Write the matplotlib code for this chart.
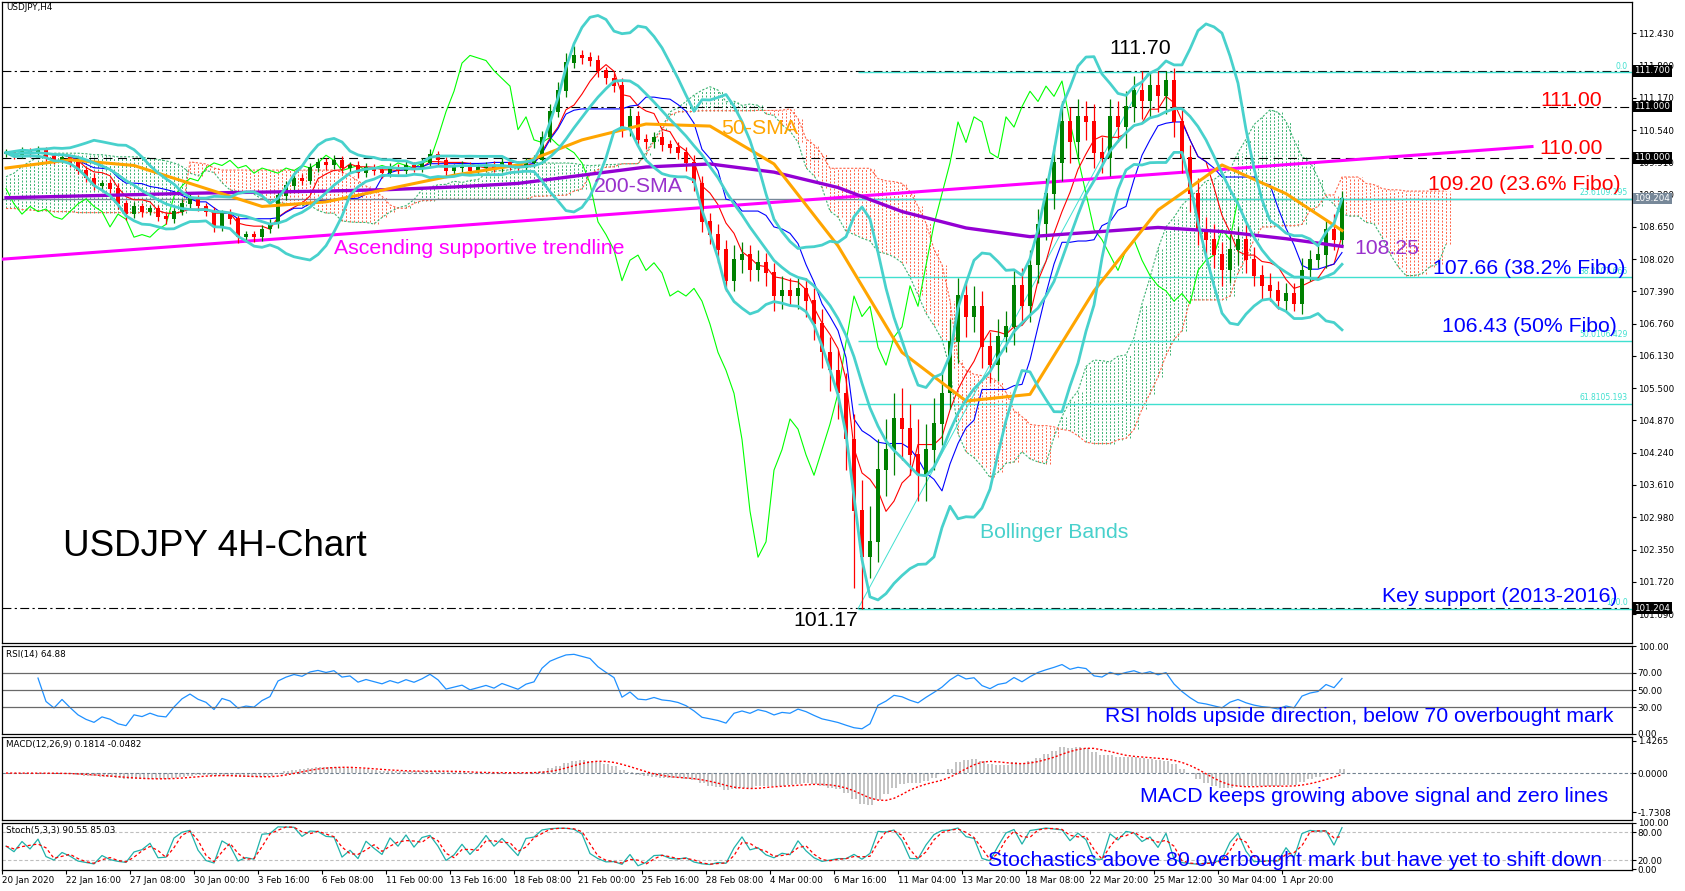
import numpy as np
import pandas as pd
import matplotlib
matplotlib.use("Agg")
import matplotlib.pyplot as plt

W, H = 1685, 891

# --- price data: 8-hour candles (open = previous close) ---
first_open = 110.08
close = [
    110.10, 110.05, 110.12, 110.08, 110.15, 110.02, 109.95, 110.00, 109.90, 109.75,
    109.60, 109.45, 109.50, 109.40, 109.10, 108.90, 109.05, 108.95, 109.00, 108.85,
    108.80, 108.95, 109.10, 109.20, 109.05, 108.95, 108.65, 108.90, 108.80, 108.45,
    108.50, 108.45, 108.60, 108.70, 109.25, 109.45, 109.60, 109.55, 109.80, 109.90,
    109.85, 109.95, 109.80, 109.85, 109.70, 109.80, 109.75, 109.70, 109.80, 109.75,
    109.85, 109.80, 109.90, 110.05, 109.95, 109.75, 109.80, 109.85, 109.75, 109.80,
    109.85, 109.80, 109.90, 109.85, 109.80, 109.90, 109.95, 110.40, 110.90, 111.30,
    111.85, 112.00, 111.95, 111.90, 111.70, 111.55, 111.40, 110.55, 110.80, 110.35,
    110.30, 110.40, 110.25, 110.20, 110.10, 109.90, 109.50, 108.75, 108.50, 108.20,
    107.60, 108.00, 108.10, 107.80, 107.95, 107.75, 107.30, 107.40, 107.30, 107.45,
    107.20, 106.75, 106.20, 105.85, 105.40, 104.50, 103.10, 102.20, 102.50, 103.90,
    104.30, 104.90, 104.70, 104.20, 103.80, 104.30, 104.80, 105.40, 106.40, 107.30,
    106.90, 107.10, 106.30, 105.95, 106.50, 106.70, 107.50, 107.10, 107.90, 108.70,
    109.30, 109.90, 110.70, 110.30, 110.80, 110.70, 110.10, 110.00, 110.80, 110.60,
    111.00, 111.30, 111.10, 111.40, 111.20, 111.50, 110.70, 110.00, 109.30, 108.60,
    108.40, 108.10, 107.80, 108.20, 108.40, 108.00, 107.70, 107.50, 107.40, 107.20,
    107.35, 107.15, 107.80, 108.00, 108.10, 108.60, 108.40, 109.20,
]
wick_up = [
    0.08, 0.06, 0.10, 0.07, 0.08, 0.06, 0.08, 0.07, 0.06, 0.08,
    0.08, 0.10, 0.07, 0.08, 0.10, 0.08, 0.09, 0.07, 0.08, 0.07,
    0.08, 0.07, 0.10, 0.09, 0.08, 0.07, 0.09, 0.08, 0.10, 0.08,
    0.08, 0.07, 0.08, 0.10, 0.08, 0.09, 0.10, 0.08, 0.09, 0.10,
    0.09, 0.10, 0.08, 0.07, 0.08, 0.09, 0.07, 0.08, 0.09, 0.07,
    0.08, 0.07, 0.10, 0.12, 0.08, 0.07, 0.08, 0.09, 0.07, 0.08,
    0.07, 0.08, 0.09, 0.07, 0.08, 0.09, 0.10, 0.12, 0.15, 0.18,
    0.20, 0.19, 0.10, 0.12, 0.10, 0.08, 0.10, 0.15, 0.18, 0.12,
    0.12, 0.10, 0.12, 0.10, 0.10, 0.12, 0.15, 0.15, 0.18, 0.20,
    0.20, 0.30, 0.25, 0.20, 0.25, 0.20, 0.20, 0.30, 0.25, 0.20,
    0.20, 0.25, 0.30, 0.30, 0.40, 0.40, 0.50, 0.60, 0.70, 0.60,
    0.60, 0.50, 0.60, 0.50, 0.70, 0.50, 0.50, 0.40, 0.45, 0.35,
    0.30, 0.40, 0.30, 0.30, 0.35, 0.30, 0.30, 0.35, 0.30, 0.30,
    0.30, 0.35, 0.40, 0.30, 0.35, 0.30, 0.35, 0.30, 0.35, 0.30,
    0.30, 0.30, 0.40, 0.25, 0.30, 0.20, 0.25, 0.30, 0.25, 0.30,
    0.25, 0.30, 0.25, 0.30, 0.25, 0.30, 0.25, 0.20, 0.25, 0.20,
    0.20, 0.20, 0.25, 0.20, 0.25, 0.20, 0.30, 0.15,
]
wick_dn = [
    0.06, 0.08, 0.05, 0.07, 0.06, 0.08, 0.07, 0.06, 0.08, 0.07,
    0.08, 0.07, 0.09, 0.08, 0.10, 0.12, 0.08, 0.10, 0.07, 0.09,
    0.10, 0.08, 0.07, 0.08, 0.09, 0.08, 0.10, 0.08, 0.09, 0.12,
    0.10, 0.09, 0.08, 0.07, 0.08, 0.07, 0.08, 0.09, 0.07, 0.08,
    0.08, 0.07, 0.09, 0.08, 0.10, 0.07, 0.08, 0.09, 0.08, 0.07,
    0.07, 0.08, 0.07, 0.08, 0.09, 0.10, 0.08, 0.07, 0.09, 0.08,
    0.08, 0.07, 0.08, 0.09, 0.07, 0.08, 0.07, 0.08, 0.10, 0.10,
    0.12, 0.10, 0.12, 0.10, 0.12, 0.10, 0.12, 0.15, 0.12, 0.10,
    0.12, 0.10, 0.12, 0.10, 0.12, 0.15, 0.15, 0.20, 0.18, 0.25,
    0.20, 0.20, 0.25, 0.20, 0.20, 0.25, 0.30, 0.25, 0.20, 0.25,
    0.30, 0.30, 0.30, 0.40, 0.50, 0.60, 1.50, 1.01, 0.40, 0.40,
    0.50, 0.50, 0.60, 0.40, 0.50, 0.50, 0.40, 0.40, 0.30, 0.40,
    0.40, 0.30, 0.40, 0.35, 0.30, 0.30, 0.35, 0.30, 0.30, 0.35,
    0.30, 0.30, 0.35, 0.40, 0.30, 0.35, 0.30, 0.30, 0.35, 0.30,
    0.40, 0.30, 0.35, 0.30, 0.30, 0.35, 0.30, 0.30, 0.35, 0.30,
    0.30, 0.25, 0.30, 0.25, 0.30, 0.25, 0.20, 0.25, 0.20, 0.15,
    0.20, 0.15, 0.20, 0.20, 0.15, 0.25, 0.20, 0.15,
]

# moving averages read every 16 H4 bars
sma_bars = [0, 16, 32, 48, 64, 80, 96, 112, 128, 144, 160, 176, 192, 208, 224,
            240, 256, 272, 288, 304, 320, 334]
sma50 = [109.80, 109.96, 109.85, 109.45, 109.05, 109.14, 109.40, 109.66, 109.86,
         110.35, 110.66, 110.62, 109.88, 108.28, 106.20, 105.25, 105.38, 107.40,
         108.98, 109.86, 109.30, 108.58]
sma200 = [109.22, 109.25, 109.28, 109.31, 109.33, 109.35, 109.38, 109.43, 109.50,
          109.66, 109.82, 109.88, 109.72, 109.42, 108.95, 108.63, 108.46, 108.55,
          108.64, 108.56, 108.42, 108.27]

# ichimoku cloud at the left edge (needs history before 20 Jan)
span_a_lead = [109.63, 109.70, 109.83, 109.93, 110.01, 110.06, 110.09, 110.09, 110.09, 110.09,
               110.08, 110.06, 110.06, 110.04, 110.02, 110.02, 110.02, 110.01, 109.99, 109.97,
               109.94, 109.90, 109.83, 109.70, 109.65]
span_b_lead = [109.01, 109.01, 108.99, 108.98, 108.97, 108.97, 108.95, 108.95, 108.95, 108.93,
               108.93, 108.93, 108.93, 108.93, 108.93, 108.93, 108.93, 108.93, 108.93, 108.93,
               108.93, 108.93, 108.93, 109.92, 109.90, 109.88, 109.80, 109.76, 109.76, 109.76,
               109.76, 109.76, 109.76, 109.76, 109.76, 109.76, 109.76, 109.76, 109.76, 109.76,
               109.76, 109.76, 109.72, 109.65, 109.55, 109.45, 109.35, 109.25]

# chart objects
trend_start = (-0.5, 108.02)
trend_end = (382.0, 110.22)
dashdot_levels = [111.70, 111.00, 101.204]
dashed_levels = [110.00]
bid_price = 109.204
fib_high, fib_low = 111.667, 101.192
fib_high_bar, fib_low_bar = 286.0, 213.5
fib_pcts = [0.0, 23.6, 38.2, 50.0, 61.8, 100.0]

price_ticks = [112.43, 111.80, 111.17, 110.54, 109.91, 109.28, 108.65, 108.02, 107.39,
               106.76, 106.13, 105.50, 104.87, 104.24, 103.61, 102.98, 102.35, 101.72, 101.09]
date_labels = ["20 Jan 2020", "22 Jan 16:00", "27 Jan 08:00", "30 Jan 00:00", "3 Feb 16:00",
               "6 Feb 08:00", "11 Feb 00:00", "13 Feb 16:00", "18 Feb 08:00", "21 Feb 00:00",
               "25 Feb 16:00", "28 Feb 08:00", "4 Mar 00:00", "6 Mar 16:00", "11 Mar 04:00",
               "13 Mar 20:00", "18 Mar 08:00", "22 Mar 20:00", "25 Mar 12:00", "30 Mar 04:00",
               "1 Apr 20:00"]

# --- derived series ---
c = pd.Series(close)
o = c.shift(1)
o.iloc[0] = first_open
hi = np.maximum(o, c) + np.array(wick_up)
lo = np.minimum(o, c) - np.array(wick_dn)
n = len(c)
xc = 2 * np.arange(n) + 0.5          # candle centre in H4-bar units

tenkan = (hi.rolling(5, min_periods=1).max() + lo.rolling(5, min_periods=1).min()) / 2
kijun = (hi.rolling(13, min_periods=1).max() + lo.rolling(13, min_periods=1).min()) / 2
sa = (tenkan + kijun) / 2
sb = (hi.rolling(26, min_periods=1).max() + lo.rolling(26, min_periods=1).min()) / 2
span_a = np.concatenate([span_a_lead, sa.values[12:]])
span_b = np.concatenate([span_b_lead, sb.values[35:]])
ncl = len(span_a)

bb_mid = c.rolling(10, min_periods=1).mean()
bb_sd = c.rolling(10, min_periods=1).std(ddof=0)

delta = c.diff()
gain = delta.clip(lower=0).ewm(alpha=1 / 10, adjust=True).mean()
loss = (-delta.clip(upper=0)).ewm(alpha=1 / 10, adjust=True).mean()
rsi = 100 * gain / (gain + loss)

macd = c.ewm(span=6, adjust=False).mean() - c.ewm(span=13, adjust=False).mean()
signal = macd.rolling(5, min_periods=1).mean()

ll = lo.rolling(3, min_periods=1).min()
hh = hi.rolling(3, min_periods=1).max()
stoch_k = 100 * (c - ll) / (hh - ll)
stoch_d = stoch_k.rolling(2, min_periods=1).mean()

# --- figure ---
fig = plt.figure(figsize=(W / 100, H / 100), dpi=100)


def box(top, bottom):
    return [2 / W, 1 - bottom / H, 1630 / W, (bottom - top) / H]


ax = fig.add_axes(box(2, 643))
ax_rsi = fig.add_axes(box(646, 734))
ax_macd = fig.add_axes(box(737, 820))
ax_sto = fig.add_axes(box(823, 870))

small = dict(family="DejaVu Sans", size=6.3)
for a in (ax, ax_rsi, ax_macd, ax_sto):
    a.set_xlim(-0.5, 407)
    a.yaxis.tick_right()
    a.tick_params(axis="y", direction="out", length=3, width=0.8, labelsize=6.3, pad=1)
    a.tick_params(axis="x", bottom=False, labelbottom=False)
    for s in a.spines.values():
        s.set_color("black")
        s.set_linewidth(0.9)

# main chart
ax.set_ylim(100.524, 113.043)
ax.set_yticks(price_ticks)
ax.set_yticklabels([f"{v:.3f}" for v in price_ticks])

dd = (0, (8, 3, 2, 3))
for lv in dashdot_levels:
    ax.axhline(lv, color="black", lw=0.8, ls=dd, zorder=2)
for lv in dashed_levels:
    ax.axhline(lv, color="black", lw=0.8, ls=(0, (8, 5)), zorder=2)
ax.axhline(bid_price, color="#778899", lw=1.0, zorder=2)

# cloud as dotted vertical strokes, one per H4 bar
xb = np.repeat(np.arange(ncl) * 2, 2) + np.tile([0, 1], ncl)
ra = np.repeat(span_a, 2)
rb = np.repeat(span_b, 2)
ccol = np.where(ra >= rb, "#3CB371", "#FF6347")
ax.vlines(xb + 0.5, np.minimum(ra, rb), np.maximum(ra, rb), colors=ccol,
          linestyles=(0, (2, 1.6)), lw=0.7, zorder=1)
xcl = 2 * np.arange(ncl) + 0.5
ax.plot(xcl, span_a, color="#3CB371", lw=0.8, ls=(0, (2, 1.5)), zorder=1)
ax.plot(xcl, span_b, color="#FF6347", lw=0.8, ls=(0, (2, 1.5)), zorder=1)

# fibonacci
fib_prices = [fib_high - p / 100 * (fib_high - fib_low) for p in fib_pcts]
ax.hlines(fib_prices, fib_low_bar, 407, colors="#40E0D0", lw=1.0, zorder=2)
ax.plot([fib_low_bar, fib_high_bar], [fib_low, fib_high], color="#40E0D0", lw=0.7, zorder=2)
for p, fp in zip(fib_pcts, fib_prices):
    lab = f"{p:.1f}" if p in (0.0, 100.0) else f"{p:.1f}{fp:.3f}"
    ax.text(406, fp + 0.03, lab, ha="right", va="bottom", color="#40E0D0",
            family="DejaVu Sans", size=5.5, zorder=3)

# trendline
ax.plot([trend_start[0], trend_end[0]], [trend_start[1], trend_end[1]],
        color="#FF00FF", lw=2.2, zorder=4)

# ichimoku lines
ax.plot(xc[:n - 13], c.values[13:], color="#00FF00", lw=0.8, zorder=3)
ax.plot(xc, tenkan, color="#FF0000", lw=0.8, zorder=3)
ax.plot(xc, kijun, color="#0000FF", lw=0.8, zorder=3)

# candles
up = (c >= o).values
col = np.where(up, "#008000", "#FF0000")
ax.vlines(xc, lo, hi, colors=col, lw=0.9, zorder=5)
ax.bar(xc, np.abs(c - o) + 0.015, bottom=np.minimum(o, c), width=1.1, color=col,
       linewidth=0, zorder=5)

# moving averages and bands
bx = np.array(sma_bars) + 0.5
ax.plot(bx, sma200, color="#9400D3", lw=2.4, zorder=6)
ax.plot(bx, sma50, color="#FFA500", lw=2.2, zorder=6)
for band in (bb_mid + 2 * bb_sd, bb_mid, bb_mid - 2 * bb_sd):
    ax.plot(xc, band, color="#48D1CC", lw=2.0, zorder=6)

# price boxes on the right axis
ytr = ax.get_yaxis_transform()
for pv, txt, bg in [(111.70, "111.700", "black"), (111.00, "111.000", "black"),
                    (110.00, "110.000", "black"), (bid_price, "109.204", "#778899"),
                    (101.204, "101.204", "black")]:
    ax.text(1.0015, pv, txt, transform=ytr, ha="left", va="center", color="white",
            bbox=dict(boxstyle="square,pad=0.15", fc=bg, ec="none"), clip_on=False,
            zorder=10, **small)

# RSI (skip the first few warm-up values)
ax_rsi.set_ylim(-0.3, 100.3)
ax_rsi.plot(xc[4:], rsi[4:], color="#1E90FF", lw=0.9)
for lv in (70, 50, 30):
    ax_rsi.axhline(lv, color="#696969", lw=0.9)
ax_rsi.set_yticks([100, 70, 50, 30, 0])
ax_rsi.set_yticklabels(["100.00", "70.00", "50.00", "30.00", "0.00"])

# MACD
ax_macd.set_ylim(-2.086, 1.604)
xh = np.repeat(xc, 2) + np.tile([-0.5, 0.5], n)
ax_macd.vlines(xh, 0, np.repeat(macd.values, 2), colors="#BEBEBE", lw=1.3)
ax_macd.axhline(0, color="#708090", lw=0.8, ls=(0, (3, 2)))
ax_macd.plot(xc, signal, color="#FF0000", lw=1.0, ls=(0, (1.5, 1.5)))
ax_macd.set_yticks([1.4265, 0.0, -1.7308])
ax_macd.set_yticklabels(["1.4265", "0.0000", "-1.7308"])

# Stochastic
ax_sto.set_ylim(-1.4, 99.3)
for lv in (80, 20):
    ax_sto.axhline(lv, color="#BEBEBE", lw=0.8, ls=(0, (3, 2)))
ax_sto.plot(xc, stoch_k, color="#20B2AA", lw=0.9)
ax_sto.plot(xc, stoch_d, color="#FF0000", lw=0.9, ls=(0, (2.5, 2)))
ax_sto.set_yticks([100, 80, 20, 0])
ax_sto.set_yticklabels(["100.00", "80.00", "20.00", "0.00"])

ax_sto.set_xticks(np.arange(len(date_labels)) * 16 - 0.5)
ax_sto.set_xticklabels(date_labels)
ax_sto.tick_params(axis="x", bottom=True, labelbottom=True, direction="out", length=3,
                   width=0.8, labelsize=6.3, pad=1)
for t in ax_sto.get_xticklabels():
    t.set_ha("left")


# --- text ---
def ftext(px, py, s, **kw):
    fig.text(px / W, 1 - py / H, s, **kw)


big = dict(family="Liberation Sans", size=15.3, ha="center", va="center")
ftext(6, 8, "USDJPY,H4", ha="left", va="center", color="black", **small)
ftext(6, 654, "RSI(14) 64.88", ha="left", va="center", color="black", **small)
ftext(6, 744, "MACD(12,26,9) 0.1814 -0.0482", ha="left", va="center", color="black", **small)
ftext(6, 831, "Stoch(5,3,3) 90.55 85.03", ha="left", va="center", color="black", **small)

ftext(1140, 49, "111.70", color="black", **big)
ftext(1571, 100, "111.00", color="#FF0000", **big)
ftext(1571, 149, "110.00", color="#FF0000", **big)
ftext(1524, 185, "109.20 (23.6% Fibo)", color="#FF0000", **big)
ftext(1387, 248, "108.25", color="#9932CC", **big)
ftext(1529, 268, "107.66 (38.2% Fibo)", color="#0000FF", **big)
ftext(1529, 327, "106.43 (50% Fibo)", color="#0000FF", **big)
ftext(1500, 596, "Key support (2013-2016)", color="#0000FF", **big)
ftext(826, 621, "101.17", color="black", **big)
ftext(1054, 532, "Bollinger Bands", color="#48D1CC", **big)
ftext(479, 249, "Ascending supportive trendline", color="#FF00FF", **big)
ftext(638, 187, "200-SMA", color="#9932CC", **big)
ftext(760, 129, "50-SMA", color="#FFA500", **big)
ftext(215, 547, "USDJPY 4H-Chart", color="black", family="Liberation Sans", size=26.5,
      ha="center", va="center")
ftext(1359, 716, "RSI holds upside direction, below 70 overbought mark", color="#0000FF", **big)
ftext(1374, 796, "MACD keeps growing above signal and zero lines", color="#0000FF", **big)
ftext(1295, 861, "Stochastics above 80 overbought mark but have yet to shift down",
      color="#0000FF", **big)

fig.savefig("out.png", dpi=100, facecolor="white")
